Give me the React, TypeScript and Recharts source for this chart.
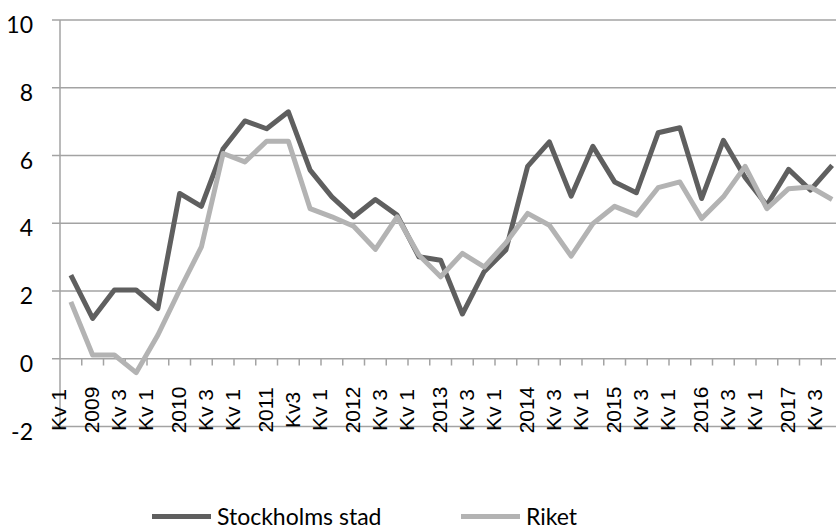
import React from 'react';
import { LineChart, Line, XAxis, YAxis, CartesianGrid, ReferenceLine, Legend } from 'recharts';

const DARK = '#5f5f5f';
const LIGHT = '#b3b3b3';
const GRID = '#a3a3a3';
const LABEL_FONT = "'Liberation Sans', Arial, sans-serif";
const CALIBRI_LIKE = "Lato, 'Open Sans', sans-serif";

const years = [2009, 2010, 2011, 2012, 2013, 2014, 2015, 2016, 2017];
const quarters = ['Kv 1', 'Kv 2', 'Kv 3', 'Kv 4'];
const categories = years.flatMap((y) => quarters.map((q) => `${y} ${q}`));

const stockholm = [
  2.47, 1.19, 2.03, 2.03, 1.48, 4.88, 4.5, 6.2, 7.02, 6.79, 7.29, 5.57,
  4.78, 4.19, 4.7, 4.24, 3.01, 2.91, 1.32, 2.57, 3.21, 5.68, 6.4, 4.8,
  6.27, 5.22, 4.9, 6.67, 6.82, 4.73, 6.45, 5.35, 4.53, 5.59, 4.98, 5.71,
];
const riket = [
  1.68, 0.11, 0.11, -0.41, 0.7, 2.03, 3.3, 6.06, 5.81, 6.42, 6.42, 4.43,
  4.19, 3.91, 3.23, 4.19, 3.06, 2.42, 3.11, 2.71, 3.42, 4.29, 3.94, 3.03,
  3.99, 4.5, 4.24, 5.05, 5.22, 4.14, 4.78, 5.68, 4.43, 5.02, 5.07, 4.7,
];

// every other quarter gets a label, Kv 1 also carries the year on a second line
const tickIndexes = [0, 2, 4, 6, 8, 10, 12, 14, 16, 18, 20, 22, 24, 26, 28, 30, 32, 34];
const tickLabels = [
  ['Kv 1', '2009'], ['Kv 3'], ['Kv 1', '2010'], ['Kv 3'], ['Kv 1', '2011'], ['Kv3'],
  ['Kv 1', '2012'], ['Kv 3'], ['Kv 1', '2013'], ['Kv 3'], ['Kv 1', '2014'], ['Kv 3'],
  ['Kv 1', '2015'], ['Kv 3'], ['Kv 1', '2016'], ['Kv 3'], ['Kv 1', '2017'], ['Kv 3'],
];
const yTicks = [-2, 0, 2, 4, 6, 8, 10];
const seriesNames = ['Stockholms stad', 'Riket'];

const data = categories.map((name, i) => ({ i, name, stockholm: stockholm[i], riket: riket[i] }));
const boundaries = categories.slice(1).map((_, i) => i + 0.5);

const LINE_GAP = 33;

function XTick({ x, y, payload }: any) {
  const lines = tickLabels[tickIndexes.indexOf(payload.value)] || [];
  const start = -((lines.length - 1) * LINE_GAP) / 2;
  return (
    <g transform={`translate(${x + 4},${y - 16.5}) rotate(-90)`}>
      {lines.map((t, k) => (
        <text key={k} x={0} y={start + k * LINE_GAP} textAnchor="middle" dominantBaseline="central"
          fontFamily={LABEL_FONT} fontSize={21} fill="#000">
          {t}
        </text>
      ))}
    </g>
  );
}

function YTick({ x, y, payload }: any) {
  return (
    <text x={x} y={y + 4} textAnchor="end" dominantBaseline="central" fontFamily={CALIBRI_LIKE} fontSize={23} fill="#000">
      {payload.value}
    </text>
  );
}

const legendLeft = [152, 461];

function LegendContent({ payload }: any) {
  const items = seriesNames.map((n) => (payload || []).find((p: any) => p.value === n)).filter(Boolean);
  return (
    <div style={{ position: 'relative', height: 26 }}>
      {items.map((p: any, k: number) => (
        <div key={p.value} style={{ position: 'absolute', left: legendLeft[k], top: 0, height: 26, display: 'flex', alignItems: 'center' }}>
          <div style={{ width: 59, height: 5, background: p.color, marginRight: 6 }} />
          <span style={{ fontFamily: CALIBRI_LIKE, fontSize: 23, color: '#000', lineHeight: '26px', whiteSpace: 'nowrap' }}>{p.value}</span>
        </div>
      ))}
    </div>
  );
}

export default function App() {
  return (
    <div style={{ position: 'fixed', left: 0, top: 0, width: 836, height: 529, overflow: 'hidden', background: '#fff' }}>
      <LineChart width={843} height={529} data={data} margin={{ top: 20, right: 0, left: 0, bottom: 72.5 }}>
        <CartesianGrid vertical={false} stroke={GRID} strokeWidth={1.5} />
        <XAxis dataKey="i" type="number" domain={[-0.5, 35.5]} ticks={tickIndexes} interval={0}
          tick={<XTick />} axisLine={false} tickLine={false} tickSize={0} tickMargin={0} height={30} />
        <YAxis domain={[-2, 10]} ticks={yTicks} width={60} tick={<YTick />} tickSize={8} tickMargin={19}
          axisLine={{ stroke: GRID, strokeWidth: 1.5 }} tickLine={{ stroke: GRID, strokeWidth: 1.5 }} interval={0} />
        {boundaries.map((b) => (
          <ReferenceLine key={b} segment={[{ x: b, y: 0 }, { x: b, y: -0.2 }]} stroke={GRID} strokeWidth={1.5} />
        ))}
        <Line dataKey="stockholm" name="Stockholms stad" stroke={DARK} strokeWidth={5} dot={false} activeDot={false}
          strokeLinejoin="round" isAnimationActive={false} />
        <Line dataKey="riket" name="Riket" stroke={LIGHT} strokeWidth={5} dot={false} activeDot={false}
          strokeLinejoin="round" isAnimationActive={false} />
        <Legend layout="horizontal" verticalAlign="middle" align="center" content={<LegendContent />}
          wrapperStyle={{ left: 0, top: 503, width: 836, height: 26 }} />
      </LineChart>
    </div>
  );
}
